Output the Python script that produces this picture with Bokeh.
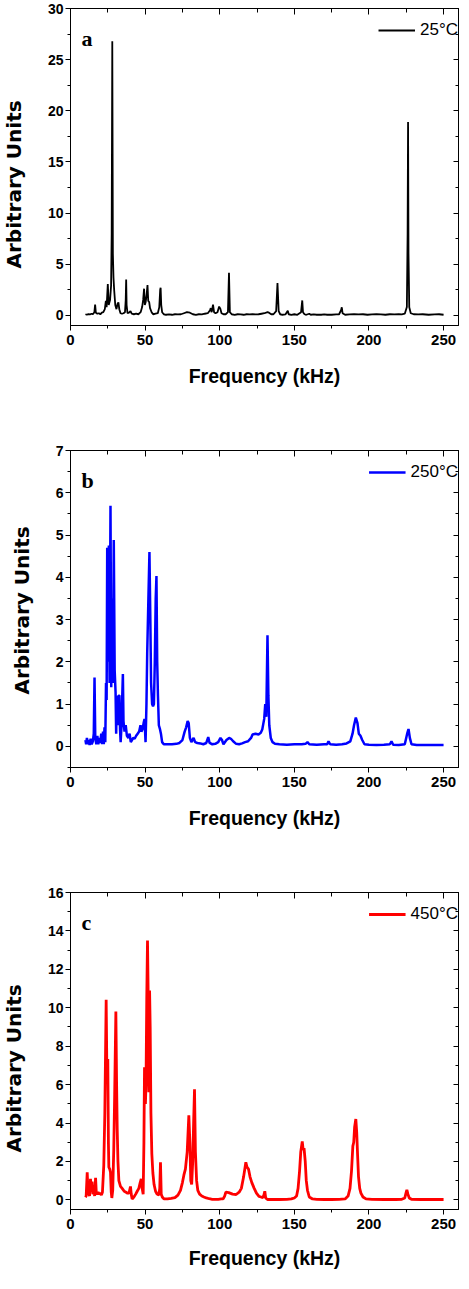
from bokeh.plotting import figure
from bokeh.models import (Range1d, LinearAxis, Legend, LegendItem, Label, Title,
                          SingleIntervalTicker, ColumnDataSource)
from bokeh.layouts import column
from bokeh.embed import file_html
from bokeh.resources import INLINE

# ---------------- data ----------------
freq_25 = [10.0, 11, 12, 13, 14, 15, 16.0, 16.5, 17.0, 18, 19, 20, 21, 22, 23, 23.7, 24.2, 25.0, 25.6,
           26.5, 27.2, 27.6, 28.0, 28.4, 28.8, 29.3, 30.0, 30.8, 31.5, 32.1, 32.7, 33.5, 34.5, 35.5,
           36.5, 37.0, 37.3, 37.6, 38.2, 39.2, 40.2, 41, 42.5, 44, 45.5, 47, 48, 48.7, 49.3, 49.8,
           50.4, 51.0, 51.6, 52.1, 52.7, 53.3, 54.5, 55.5, 57, 58.5, 59.5, 60.1, 60.4, 60.8, 61.4,
           62.5, 64, 66, 68, 70, 72, 74, 76, 78, 80, 82, 84, 86, 88, 90, 92, 93.5, 94.0, 94.6, 95.5,
           96.2, 97.2, 98.5, 99.6, 100.4, 101.2, 102.5, 104, 105.5, 106.2, 106.8, 108, 110, 112, 114,
           116, 118, 120, 122, 124, 126, 128, 130, 132, 133, 134.5, 136, 137.8, 138.7, 139.5, 140.5,
           142, 144, 145.6, 146.2, 148, 150, 152, 154.5, 155.3, 155.8, 156.8, 158, 160, 161, 163,
           165, 168, 170, 172, 175, 178, 180, 181.3, 181.8, 182.3, 184, 187, 190, 193, 196, 199,
           202, 205, 208, 211, 214, 217, 220, 222, 224, 225.4, 225.9, 226.2, 226.5, 227.0, 228, 230,
           233, 236, 240, 244, 247, 250]
amp_25 = [0.1, 0.05, 0.12, 0.08, 0.15, 0.1, 0.3, 1.05, 0.25, 0.15, 0.2, 0.1, 0.25, 0.3, 0.6, 1.4, 0.8,
          3.05, 1.0, 1.5, 2.9, 8, 26.8, 6, 3.7, 2.4, 1.0, 0.6, 1.1, 1.25, 0.6, 0.2, 0.15, 0.2, 0.3,
          1.5, 3.5, 1.0, 0.2, 0.25, 0.4, 0.15, 0.1, 0.15, 0.1, 0.3, 0.8, 1.5, 2.6, 1.0, 1.3, 2.0,
          2.95, 1.4, 1.3, 0.7, 0.25, 0.1, 0.15, 0.2, 0.8, 2.5, 2.7, 1.0, 0.3, 0.1, 0.05, 0.08, 0.05,
          0.1, 0.08, 0.1, 0.2, 0.3, 0.25, 0.1, 0.05, 0.1, 0.08, 0.15, 0.2, 0.5, 0.7, 0.3, 1.05, 0.3,
          0.2, 0.3, 0.85, 0.65, 0.2, 0.1, 0.1, 0.3, 4.15, 0.3, 0.1, 0.05, 0.1, 0.08, 0.05, 0.1,
          0.08, 0.1, 0.08, 0.1, 0.15, 0.2, 0.3, 0.25, 0.1, 0.1, 0.4, 3.15, 0.4, 0.1, 0.05, 0.08,
          0.45, 0.1, 0.05, 0.1, 0.05, 0.3, 1.45, 0.3, 0.1, 0.05, 0.15, 0.05, 0.08, 0.05, 0.05,
          0.08, 0.05, 0.05, 0.08, 0.1, 0.5, 0.78, 0.2, 0.05, 0.08, 0.1, 0.08, 0.1, 0.05, 0.08, 0.1,
          0.08, 0.05, 0.1, 0.08, 0.1, 0.08, 0.15, 0.8, 8, 18.9, 6, 0.8, 0.2, 0.1, 0.08, 0.1, 0.05,
          0.08, 0.1, 0.05]

freq_250 = [10.0, 10.5, 11.0, 11.6, 12.2, 12.8, 13.5, 14.2, 15.0, 15.6, 16.1, 16.6, 17.3, 18.0, 18.6,
            19.3, 20.0, 20.6, 21.2, 21.8, 22.3, 22.8, 23.3, 23.8, 24.2, 24.6, 25.1, 25.7, 26.2, 26.8,
            27.3, 27.9, 28.5, 29.0, 29.6, 30.2, 30.6, 31.0, 31.6, 32.2, 32.8, 33.2, 33.6, 34.2, 34.7,
            35.1, 35.5, 36.2, 37.0, 37.8, 38.8, 39.6, 40.4, 41.2, 42.0, 43.0, 44.0, 45.0, 46.0, 46.9,
            47.5, 48.2, 49.0, 49.6, 50.3, 50.9, 51.4, 52.2, 52.9, 53.5, 54.0, 54.7, 55.3, 55.9, 56.5,
            57.1, 57.6, 58.1, 58.6, 59.2, 60.0, 60.6, 61.4, 62.5, 65, 68, 71, 73, 75, 76.5, 77.5,
            78.5, 79.2, 80.0, 81.0, 82.5, 83.5, 85, 87, 89, 91, 92.3, 93.2, 95, 97, 99, 100.5, 101.5,
            102.5, 104.5, 106.3, 107.5, 109, 111, 113, 115, 117, 119, 121, 122, 124, 126, 127.5,
            128.5, 129.8, 130.5, 131.2, 132.0, 132.6, 133.2, 134.2, 135.4, 137, 140, 145, 150, 155,
            157.5, 158.8, 160, 165, 170, 172, 172.9, 174, 178, 182, 185, 187.5, 189, 190, 191.2,
            192.3, 193.2, 194.3, 195.5, 197, 200, 205, 210, 214, 215.1, 216.2, 220, 224, 225.6,
            226.5, 227.4, 228.5, 232, 240, 250]
amp_250 = [0.15, 0.05, 0.2, 0.05, 0.15, 0.03, 0.18, 0.05, 0.12, 0.3, 1.63, 0.2, 0.05, 0.25, 0.05,
           0.2, 0.08, 0.3, 0.05, 0.35, 0.05, 0.45, 0.1, 1.5, 1.1, 4.7, 2.0, 4.75, 1.5, 5.69, 1.4,
           3.5, 1.5, 4.88, 1.8, 1.28, 0.3, 1.2, 0.5, 1.2, 1.2, 0.4, 0.1, 0.5, 1.2, 1.71, 0.6, 0.35,
           0.5, 0.25, 0.2, 0.3, 0.1, 0.15, 0.2, 0.18, 0.25, 0.3, 0.35, 0.5, 0.35, 0.4, 0.55, 0.65,
           0.1, 1.0, 2.2, 3.5, 4.6, 3.0, 1.5, 1.0, 0.95, 1.0, 2.0, 3.5, 4.03, 2.0, 1.2, 0.5, 0.4,
           0.3, 0.1, 0.05, 0.05, 0.05, 0.06, 0.08, 0.15, 0.35, 0.45, 0.6, 0.55, 0.2, 0.1, 0.2, 0.1,
           0.08, 0.07, 0.05, 0.08, 0.22, 0.08, 0.05, 0.06, 0.1, 0.2, 0.15, 0.05, 0.15, 0.2, 0.18,
           0.12, 0.06, 0.05, 0.07, 0.1, 0.12, 0.2, 0.28, 0.3, 0.28, 0.32, 0.4, 0.65, 1.0, 0.7,
           2.63, 1.2, 0.5, 0.2, 0.1, 0.06, 0.05, 0.04, 0.05, 0.05, 0.06, 0.1, 0.05, 0.04, 0.05,
           0.05, 0.12, 0.05, 0.04, 0.05, 0.07, 0.12, 0.3, 0.5, 0.68, 0.55, 0.3, 0.25, 0.15, 0.05,
           0.04, 0.03, 0.04, 0.05, 0.12, 0.04, 0.03, 0.05, 0.3, 0.41, 0.2, 0.05, 0.03, 0.03, 0.03]

freq_450 = [10.0, 10.5, 11.2, 11.8, 12.3, 12.8, 13.4, 13.9, 14.5, 15.0, 15.6, 16.2, 16.8, 17.3, 17.9,
            18.5, 19.2, 20.0, 20.7, 21.4, 22.3, 23.0, 23.9, 24.4, 25.0, 25.4, 25.7, 26.3, 26.8, 27.3,
            27.7, 28.3, 29.0, 29.6, 30.4, 30.9, 31.3, 31.8, 32.4, 33.5, 34.6, 36.0, 37.2, 38.0, 39.2,
            40.2, 40.7, 41.3, 42.5, 43.7, 44.7, 45.8, 46.7, 47.4, 48.0, 48.7, 49.2, 49.6, 50.2, 50.6,
            51.1, 51.6, 52.0, 52.5, 53.0, 53.4, 53.9, 54.5, 55.2, 56.0, 57.0, 58.0, 59.2, 59.8, 60.3,
            60.8, 61.5, 62.6, 65, 67.5, 70, 72, 73.7, 75, 76, 77, 78.2, 79.3, 80.0, 80.6, 81.2, 81.9,
            82.5, 83.1, 83.7, 84.5, 85.3, 86.5, 88.0, 89.4, 91, 93, 95, 97, 99, 101, 102.3, 103.3,
            104.1, 106.0, 108.6, 111, 113, 114.5, 116, 117.5, 118.3, 119.3, 120.3, 121.5, 123.1,
            124.6, 126.3, 127.6, 128.8, 129.6, 130.2, 130.8, 132, 135, 140, 145, 148, 150, 151.5,
            152.5, 153.5, 154.3, 155.3, 155.9, 156.5, 157.3, 158.0, 158.8, 160, 162.2, 165, 170, 175,
            180, 184, 186, 187.3, 188.3, 189.2, 189.8, 190.4, 191.2, 191.8, 192.4, 193.0, 193.8,
            194.6, 196, 198, 202, 210, 218, 222, 224, 224.8, 225.4, 226.1, 227.0, 228.5, 235, 245, 250]
amp_450 = [0.14, 0.2, 1.44, 0.3, 0.3, 0.2, 1.1, 0.4, 0.95, 0.3, 0.4, 0.2, 1.15, 0.35, 0.3, 0.4, 0.3,
           0.35, 0.25, 0.4, 1.8, 4.5, 10.42, 6.5, 7.33, 3.0, 1.7, 1.6, 1.44, 0.4, 0.1, 0.5, 2.65,
           5.5, 9.81, 6.0, 3.7, 2.0, 1.0, 0.7, 0.6, 0.45, 0.4, 0.35, 0.35, 0.7, 0.3, 0.05, 0.15,
           0.3, 0.45, 0.6, 0.9, 1.1, 0.6, 0.3, 3.0, 6.9, 5.0, 6.0, 10.5, 13.5, 11.0, 5.6, 10.9, 9.0,
           4.5, 2.4, 1.4, 0.8, 0.45, 0.3, 0.25, 0.6, 1.96, 0.3, 0.15, 0.05, 0.05, 0.08, 0.12, 0.25,
           0.5, 0.9, 1.3, 1.6, 2.5, 4.4, 3.0, 1.0, 0.8, 2.0, 4.0, 5.76, 2.5, 1.0, 0.5, 0.3, 0.2,
           0.15, 0.1, 0.06, 0.03, 0.03, 0.03, 0.05, 0.05, 0.2, 0.4, 0.38, 0.3, 0.28, 0.4, 0.6, 1.2,
           1.96, 1.7, 1.6, 1.2, 0.9, 0.6, 0.35, 0.18, 0.15, 0.12, 0.25, 0.45, 0.1, 0.02, 0.02, 0.02,
           0.03, 0.05, 0.1, 0.2, 0.6, 1.5, 2.5, 3.04, 2.6, 2.7, 2.0, 1.0, 0.5, 0.15, 0.05, 0.03,
           0.02, 0.02, 0.03, 0.05, 0.2, 0.6, 1.5, 2.8, 3.0, 3.8, 4.21, 3.5, 2.3, 1.2, 0.6, 0.35,
           0.15, 0.05, 0.03, 0.02, 0.02, 0.03, 0.1, 0.35, 0.52, 0.3, 0.1, 0.03, 0.02, 0.02, 0.02]

x_title = "Frequency (kHz)"
y_title = "Arbitrary Units"
letters = ["a", "b", "c"]
legend_labels = ["25\u00b0C", "250\u00b0C", "450\u00b0C"]
colors = ["black", "#0000ff", "#ff0000"]
y_ranges = [(-1, 30), (-0.5, 7), (-0.5, 16)]
y_steps = [5, 1, 2]

SANS = "Liberation Sans"
SHIFT = 26            # layout nudged left so the frame sits where the reference has it
BORDER_L = 70 + SHIFT


def make_panel(freq, amp, color, lw, letter, leg, yr, ystep, height, bottom, ytitle_offset,
               xtitle_standoff):
    p = figure(width=460 + SHIFT, height=height, x_range=Range1d(0, 260), y_range=Range1d(*yr),
               output_backend="svg", toolbar_location=None,
               min_border_left=BORDER_L, min_border_right=2, min_border_top=8,
               min_border_bottom=bottom, background_fill_color="white",
               border_fill_color="white")
    p.grid.visible = False
    p.outline_line_color = "black"
    p.outline_line_width = 1

    p.xaxis.ticker = SingleIntervalTicker(interval=50, num_minor_ticks=2)
    p.yaxis.ticker = SingleIntervalTicker(interval=ystep, num_minor_ticks=2)

    for ax in (p.xaxis[0], p.yaxis[0]):
        ax.axis_line_color = "black"
        ax.major_tick_line_color = "black"
        ax.minor_tick_line_color = "black"
        ax.major_tick_in = 0
        ax.major_tick_out = 5
        ax.minor_tick_in = 0
        ax.minor_tick_out = 3
        ax.major_label_text_color = "black"
        ax.major_label_text_font_style = "bold"
        ax.major_label_text_font = SANS

    xa = p.xaxis[0]
    xa.axis_label = x_title
    xa.axis_label_text_color = "black"
    xa.axis_label_text_font_style = "bold"
    xa.major_label_text_font_size = "15px"
    xa.major_label_standoff = 4
    xa.axis_label_text_font = SANS
    xa.axis_label_text_font_size = "19.5px"
    xa.axis_label_standoff = xtitle_standoff

    ya = p.yaxis[0]
    ya.major_label_text_font_size = "14px"
    ya.major_label_standoff = 2

    top = LinearAxis(ticker=SingleIntervalTicker(interval=50, num_minor_ticks=2),
                     major_label_text_font_size="1px", major_label_text_color=None,
                     major_label_standoff=0,
                     major_tick_in=6, major_tick_out=0, minor_tick_in=4, minor_tick_out=0)
    right = LinearAxis(ticker=SingleIntervalTicker(interval=ystep, num_minor_ticks=2),
                       major_label_text_font_size="1px", major_label_text_color=None,
                       major_label_standoff=0,
                       major_tick_in=5, major_tick_out=0, minor_tick_in=3, minor_tick_out=0)
    p.add_layout(top, "above")
    p.add_layout(right, "right")

    # y-axis title, placed beside the tick labels
    p.add_layout(Title(text=y_title, align="left", offset=ytitle_offset, standoff=38,
                       text_font="DejaVu Sans", text_font_style="bold",
                       text_font_size="20px", text_color="black"), "left")

    src = ColumnDataSource(dict(f=freq, a=amp))
    r = p.line("f", "a", source=src, line_color=color, line_width=lw)

    legend = Legend(items=[LegendItem(label=leg, renderers=[r])], location="top_right",
                    border_line_color=None, background_fill_alpha=0, padding=7, margin=0,
                    glyph_width=37, glyph_height=44, label_height=44, label_standoff=5,
                    label_text_font=SANS, label_text_font_size="17px",
                    label_text_color="black")
    p.add_layout(legend)

    frame_h = height - 8 - bottom
    p.add_layout(Label(x=11, y=frame_h - 30, x_units="screen", y_units="screen", text=letter,
                       text_font="Liberation Serif", text_font_style="bold",
                       text_font_size="22px", text_baseline="alphabetic",
                       text_color="black"))
    return p


pa = make_panel(freq_25, amp_25, colors[0], 1.8, letters[0], legend_labels[0], y_ranges[0],
                y_steps[0], 442, 117, 57, 17)
pb = make_panel(freq_250, amp_250, colors[1], 2.5, letters[1], legend_labels[1], y_ranges[1],
                y_steps[1], 442, 117, 73, 17)
pc = make_panel(freq_450, amp_450, colors[2], 2.8, letters[2], legend_labels[2], y_ranges[2],
                y_steps[2], 388, 63, 57, 15)

layout = column(pa, pb, pc, spacing=0, styles={"margin-left": "-%dpx" % SHIFT})
open("out.html", "w").write(file_html(layout, INLINE))
